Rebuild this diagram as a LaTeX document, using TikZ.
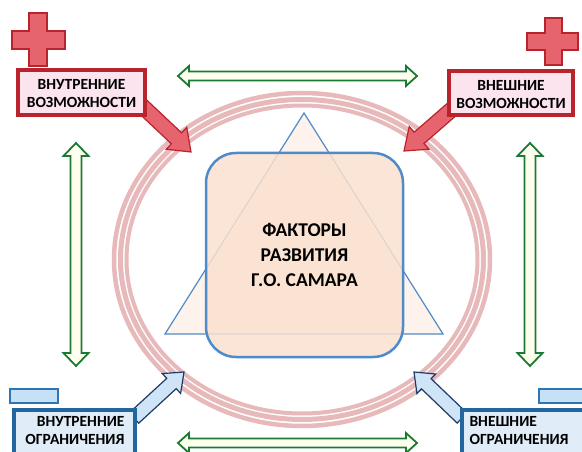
\documentclass[tikz,border=0pt]{standalone}
\usepackage{fontspec}
\setmainfont{Carlito}
\usetikzlibrary{calc}
\definecolor{ringc}{HTML}{E8B9BB}
\definecolor{triblue}{HTML}{4F8BC9}
\definecolor{trifill}{HTML}{FDF3EC}
\definecolor{sqfill}{HTML}{FBE1CF}
\definecolor{redfill}{HTML}{E6646D}
\definecolor{redline}{HTML}{B9232C}
\definecolor{pinkfill}{HTML}{FCE4EE}
\definecolor{greenline}{HTML}{1A7A32}
\definecolor{ivory}{HTML}{FFFFF0}
\definecolor{bluefill}{HTML}{CFE5F7}
\definecolor{navy}{HTML}{1F3A64}
\definecolor{boxblue}{HTML}{21669F}
\definecolor{lightblue}{HTML}{E0ECF8}
\definecolor{smallblue}{HTML}{C6E0F5}
\definecolor{smallline}{HTML}{2E75B6}
\newcommand\myarrow[6]{% style, A, B, shaft half, head half, head length
  \coordinate (hq) at ($(#3)!#6!(#2)$);
  \draw[#1] ($(#2)!#4!90:(#3)$) -- ($(hq)!#4!90:(#3)$) -- ($(hq)!#5!90:(#3)$) -- (#3)
    -- ($(hq)!#5!-90:(#3)$) -- ($(hq)!#4!-90:(#3)$) -- ($(#2)!#4!-90:(#3)$) -- cycle;}
\newcommand\mydblarrow[6]{%
  \coordinate (ha) at ($(#2)!#6!(#3)$);
  \coordinate (hb) at ($(#3)!#6!(#2)$);
  \draw[#1] (#2) -- ($(ha)!#5!90:(#3)$) -- ($(ha)!#4!90:(#3)$) -- ($(hb)!#4!90:(#3)$)
    -- ($(hb)!#5!90:(#3)$) -- (#3) -- ($(hb)!#5!-90:(#3)$) -- ($(hb)!#4!-90:(#3)$)
    -- ($(ha)!#4!-90:(#3)$) -- ($(ha)!#5!-90:(#3)$) -- cycle;}
\tikzset{
  ring/.style={draw=ringc},
  greenarr/.style={draw=greenline, fill=ivory, line width=1.8pt, line join=miter},
  redarr/.style={draw=redline, fill=redfill, line width=1.2pt},
  bluearr/.style={draw=navy, fill=bluefill, line width=1.2pt},
  cross/.style={draw=redline, fill=redfill, line width=1.5pt},
  boxtxt/.style={font=\fontsize{15.5}{18}\selectfont\bfseries, text=black},
  redbox/.style={draw=redline, fill=pinkfill, line width=4pt},
  bluebox/.style={draw=boxblue, fill=lightblue, line width=4pt},
  smallbox/.style={draw=smallline, fill=smallblue, line width=1.2pt},
}
\begin{document}
\begin{tikzpicture}[x=1pt,y=-1pt]
\clip (0,0) rectangle (582,452);
\fill[white] (0,0) rectangle (582,452);
% ring
\draw[ring, line width=4.5pt] (302,259.5) ellipse [x radius=188, y radius=166.5];
\draw[ring, line width=5pt] (302,259.5) ellipse [x radius=181.5, y radius=160];
\draw[ring, line width=4pt] (302,259.5) ellipse [x radius=175.5, y radius=154];
% triangle
\coordinate (t1) at (304,113);
\coordinate (t2) at (443,334);
\coordinate (t3) at (165,334);
\draw[triblue, fill=trifill, line width=1.2pt, line join=miter] (t1) -- (t2) -- (t3) -- cycle;
% central square
\node[draw=triblue, line width=2.5pt, fill=sqfill, fill opacity=0.85, text opacity=1,
  rounded corners=30pt, minimum width=197pt, minimum height=204pt,
  font=\fontsize{19.5}{25}\selectfont\bfseries, align=center, text=black]
  (center) at (304.5,255) {ФАКТОРЫ\\РАЗВИТИЯ\\Г.О. САМАРА};
% green double arrows
\coordinate (gt1) at (178,76); \coordinate (gt2) at (417,76);
\coordinate (gb1) at (178,443); \coordinate (gb2) at (417,443);
\coordinate (gl1) at (76,143); \coordinate (gl2) at (76,366);
\coordinate (gr1) at (530,143); \coordinate (gr2) at (530,366);
\mydblarrow{greenarr}{gt1}{gt2}{4.5pt}{10pt}{11pt}
\mydblarrow{greenarr}{gb1}{gb2}{4.5pt}{10pt}{11pt}
\mydblarrow{greenarr}{gl1}{gl2}{5.5pt}{12.5pt}{13pt}
\mydblarrow{greenarr}{gr1}{gr2}{5.5pt}{12.5pt}{13pt}
% red arrows
\coordinate (ra1) at (140,104); \coordinate (ra2) at (191,152);
\coordinate (rb1) at (458,104); \coordinate (rb2) at (404,151);
\myarrow{redarr}{ra1}{ra2}{7.5pt}{15pt}{20pt}
\myarrow{redarr}{rb1}{rb2}{7.5pt}{15pt}{20pt}
% blue arrows
\coordinate (ba1) at (134,418); \coordinate (ba2) at (184,372);
\coordinate (bb1) at (462,418); \coordinate (bb2) at (414,372);
\myarrow{bluearr}{ba1}{ba2}{7pt}{13.5pt}{17pt}
\myarrow{bluearr}{bb1}{bb2}{7pt}{13.5pt}{17pt}
% crosses
\draw[cross] (29,13) -- (47,13) -- (47,31) -- (65,31) -- (65,49) -- (47,49) -- (47,66)
  -- (29,66) -- (29,49) -- (12,49) -- (12,31) -- (29,31) -- cycle;
\draw[cross] (545,18) -- (562,18) -- (562,33) -- (578,33) -- (578,50) -- (562,50) -- (562,65)
  -- (545,65) -- (545,50) -- (527,50) -- (527,33) -- (545,33) -- cycle;
% top boxes
\node[redbox, minimum width=127pt, minimum height=45pt] (tl) at (81.5,92.5) {};
\node[boxtxt, align=center] (tltext) at (81.5,94) {ВНУТРЕННИЕ\\ВОЗМОЖНОСТИ};
\node[redbox, minimum width=124pt, minimum height=44pt] (tr) at (511,93) {};
\node[boxtxt, align=center] (trtext) at (511,94.5) {ВНЕШНИЕ\\ВОЗМОЖНОСТИ};
% small blue rectangles
\draw[smallbox] (10,389) rectangle (58,403);
\draw[smallbox] (539,389) rectangle (600,403);
% bottom boxes
\draw[bluebox] (14,410) rectangle (135,470);
\node[boxtxt, align=right, anchor=north east] (bltext) at (128,413) {ВНУТРЕННИЕ\\ОГРАНИЧЕНИЯ};
\draw[bluebox] (462,410) rectangle (600,470);
\node[boxtxt, align=left, anchor=north west] (brtext) at (466,413) {ВНЕШНИЕ\\ОГРАНИЧЕНИЯ};
\end{tikzpicture}
\end{document}
